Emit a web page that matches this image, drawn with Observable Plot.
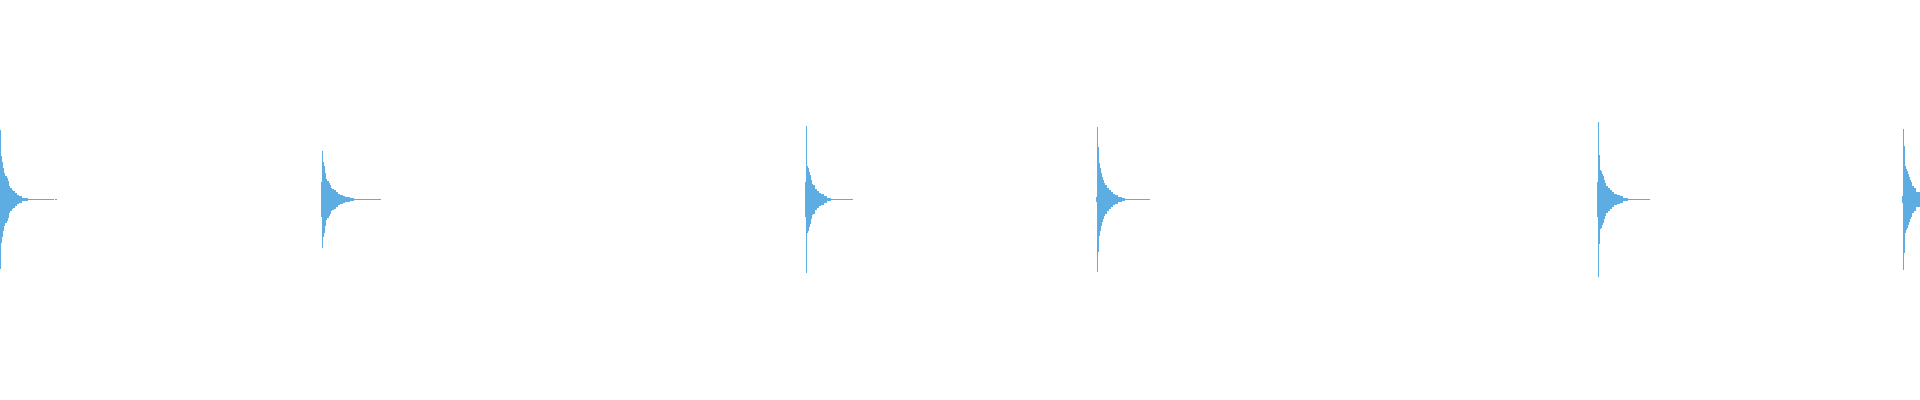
<!DOCTYPE html>
<html>
<head>
<meta charset="utf-8">
<script src="https://cdn.jsdelivr.net/npm/d3@7"></script>
<script src="https://cdn.jsdelivr.net/npm/@observablehq/plot@0.6"></script>
<style>
  html, body { margin: 0; padding: 0; background: #fff; }
  #chart { width: 1920px; height: 400px; }
</style>
</head>
<body>
<div id="chart"></div>
<script>
// Onset time (sample column) of each hit
const hitStarts = [0, 321, 805, 1096, 1597, 1902];

// Envelope breakpoints per hit: offsets (columns after start) and amplitude (fraction of full scale)
const hit1Off = [0, 1, 2, 3, 4, 5, 7, 8, 9, 10, 12, 13, 15, 17, 19, 22, 28, 54, 55, 57];
const hit1Amp = [0.35, 0.218, 0.19, 0.159, 0.134, 0.12, 0.11, 0.095, 0.07, 0.06, 0.05, 0.043, 0.033, 0.025, 0.018, 0.01, 0.0025, 0, 0.0025, 0];

const hit2Off = [0, 1, 2, 3, 4, 5, 6, 8, 9, 10, 11, 13, 15, 17, 19, 22, 24, 29, 33, 38, 60];
const hit2Amp = [0.089, 0.244, 0.189, 0.17, 0.132, 0.105, 0.094, 0.083, 0.072, 0.06, 0.055, 0.047, 0.038, 0.03, 0.023, 0.017, 0.012, 0.007, 0.004, 0.0025, 0];

const hit3Off = [0, 1, 2, 3, 4, 5, 6, 7, 8, 10, 12, 14, 16, 19, 22, 26, 30, 48];
const hit3Amp = [0.089, 0.367, 0.17, 0.157, 0.139, 0.123, 0.1, 0.08, 0.072, 0.055, 0.043, 0.033, 0.027, 0.017, 0.01, 0.005, 0.0025, 0];

const hit4Off = [0, 1, 2, 3, 4, 5, 6, 7, 8, 9, 11, 13, 15, 17, 19, 22, 26, 29, 33, 54];
const hit4Amp = [0.0125, 0.365, 0.263, 0.182, 0.158, 0.132, 0.113, 0.097, 0.083, 0.072, 0.06, 0.047, 0.038, 0.03, 0.022, 0.015, 0.01, 0.005, 0.0025, 0];

const hit5Off = [0, 1, 2, 3, 4, 5, 6, 7, 8, 9, 11, 13, 15, 17, 20, 23, 26, 31, 36, 53];
const hit5Amp = [0.088, 0.39, 0.221, 0.15, 0.142, 0.13, 0.117, 0.097, 0.083, 0.068, 0.058, 0.047, 0.038, 0.03, 0.022, 0.017, 0.01, 0.005, 0.0025, 0];

const hit6Off = [0, 1, 2, 3, 4, 5, 6, 7, 8, 9, 10, 12, 14, 18];
const hit6Amp = [0.016, 0.354, 0.267, 0.167, 0.153, 0.143, 0.13, 0.113, 0.097, 0.088, 0.067, 0.06, 0.038, 0];

const hitOffsets = [hit1Off, hit2Off, hit3Off, hit4Off, hit5Off, hit6Off];
const hitAmps = [hit1Amp, hit2Amp, hit3Amp, hit4Amp, hit5Amp, hit6Amp];

const rows = [];
hitStarts.forEach((s, i) => {
  hitOffsets[i].forEach((o, j) => {
    rows.push({hit: i, t: s + o, amp: hitAmps[i][j]});
  });
});

const chart = Plot.plot({
  width: 1920,
  height: 400,
  margin: 0,
  x: {domain: [0, 1920], axis: null},
  y: {domain: [-1, 1], range: [399, 0], axis: null},
  marks: [
    Plot.areaY(rows, {
      x: "t",
      y1: d => -d.amp,
      y2: d => d.amp,
      z: "hit",
      curve: "step-after",
      fill: "#5dade2",
      shapeRendering: "crispEdges"
    })
  ]
});
document.getElementById("chart").appendChild(chart);
</script>
</body>
</html>
